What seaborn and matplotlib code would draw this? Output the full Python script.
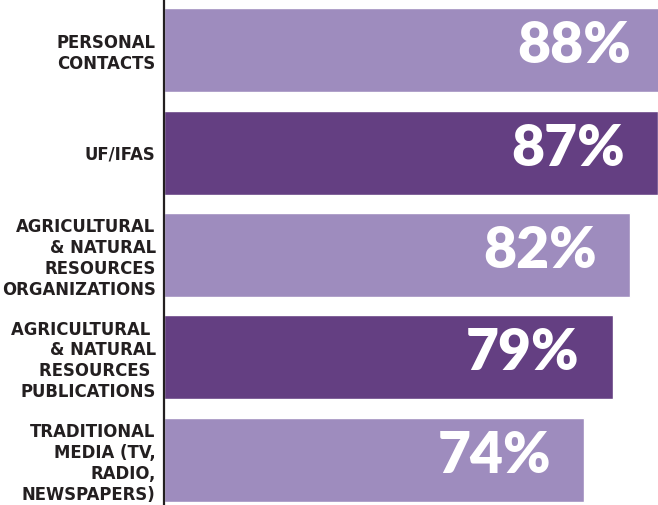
import matplotlib
matplotlib.use("Agg")
import matplotlib.pyplot as plt
import seaborn as sns
import pandas as pd

# values
categories = [
    "PERSONAL\nCONTACTS",
    "UF/IFAS",
    "AGRICULTURAL\n& NATURAL\nRESOURCES\nORGANIZATIONS",
    "AGRICULTURAL \n& NATURAL\nRESOURCES \nPUBLICATIONS",
    "TRADITIONAL\nMEDIA (TV,\nRADIO,\nNEWSPAPERS)",
]
values = [88, 87, 82, 79, 74]
colors = ["#9e8cbe", "#643f82", "#9e8cbe", "#643f82", "#9e8cbe"]

df = pd.DataFrame({"source": categories, "pct": values})

sns.set_style("white")
plt.rcParams["font.family"] = ["Lato", "DejaVu Sans"]

fig = plt.figure(figsize=(6.58, 5.05), dpi=100)
ax = fig.add_axes([164 / 658, 0, 1 - 164 / 658, 1])

sns.barplot(data=df, x="pct", y="source", hue="source", palette=colors,
            legend=False, width=0.82, saturation=1, orient="h", ax=ax)

ax.set_xlim(0, 86.97)
ax.set_ylim(4.44, -0.49)

for i, v in enumerate(values):
    ax.text(v - 5.8, i - 0.04, f"{v}%", ha="right", va="center",
            color="white", fontsize=41, family="Lato", fontweight=800)

for side in ["top", "right", "bottom"]:
    ax.spines[side].set_visible(False)
ax.spines["left"].set_color("#231f20")
ax.spines["left"].set_linewidth(1.6)

ax.set_xticks([])
ax.set_xlabel("")
ax.set_ylabel("")
ax.tick_params(axis="y", length=0, pad=6)
for lbl in ax.get_yticklabels():
    lbl.set_family("DejaVu Sans")
    lbl.set_fontsize(11.9)
    lbl.set_fontweight("bold")
    lbl.set_color("#231f20")
    lbl.set_linespacing(1.2)
    lbl.set_multialignment("right")

fig.savefig("out.png", dpi=100)
